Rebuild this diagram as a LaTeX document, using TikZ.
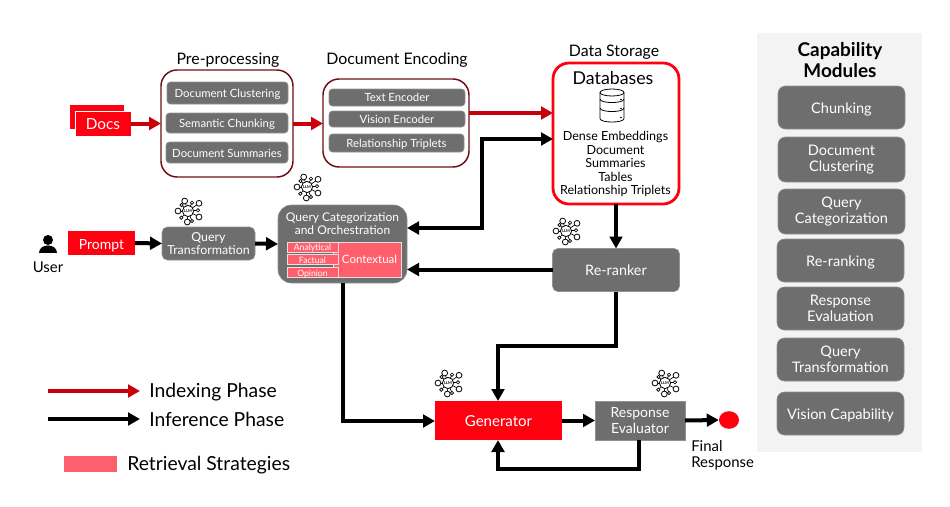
\documentclass[tikz,border=0pt]{standalone}
\usepackage{fontspec}
\setmainfont{Lato}
\usetikzlibrary{arrows.meta}
\definecolor{rcol}{RGB}{255,0,17}
\definecolor{darkrcol}{RGB}{200,0,10}
\definecolor{framecol}{RGB}{112,12,20}
\definecolor{gcol}{RGB}{110,110,110}
\definecolor{pinkcol}{RGB}{255,95,108}
\definecolor{panelcol}{RGB}{243,243,243}
\tikzset{every picture/.style={x=.75pt,y=-.75pt}}
\tikzset{wh/.style 2 args={minimum width=#1*.75pt,minimum height=#2*.75pt,inner sep=0pt,outer sep=0pt}}
\tikzset{oneline/.style={text height=#1,text depth=0pt},oneline/.default=9.5pt}
\tikzset{frame/.style={draw=framecol,line width=1.1pt,rounded corners=12pt}}
\tikzset{graybox/.style={fill=gcol,draw=gcol!75!white,line width=.4pt,rounded corners=2.5pt,text=white,align=center,font=\fontsize{8.5}{9.8}\selectfont}}
\tikzset{capbox/.style={graybox,rounded corners=5.5pt,font=\fontsize{10.9}{12}\selectfont}}
\tikzset{redbox/.style={fill=rcol,text=white,oneline,font=\fontsize{10.5}{12}\selectfont}}
\tikzset{pinkbox/.style={fill=pinkcol,draw=white!80!gcol,line width=.5pt,text=white,oneline=5.4pt,font=\fontsize{6.5}{7}\selectfont}}
\tikzset{head/.style={oneline=9pt,font=\fontsize{11.9}{13}\selectfont}}
\tikzset{legend/.style={anchor=west,oneline=11.3pt,font=\fontsize{14.5}{16}\selectfont}}
\tikzset{annot/.style={align=center,font=\fontsize{9.4}{10.1}\selectfont}}
\tikzset{redge/.style={-{Triangle[length=9pt,width=9.5pt]},darkrcol,line width=3pt}}
\tikzset{bedge/.style={-{Triangle[length=9pt,width=9.5pt]},black,line width=3pt}}
\tikzset{llm/.pic={
  \foreach \dx/\dy in {-3.3/-10,11/-7.7,11/6,-10/0,-.7/11} {
    \draw [line width=.5pt] (0,0) -- (\dx,\dy);
    \draw [line width=.6pt,fill=white] (\dx,\dy) circle (2.9);
  }
  \foreach \dx/\dy in {4/-8.3,10/-.7,4/10,-6.7/6.7,-6.5/-6} {
    \draw [line width=.5pt] (0,0) -- (\dx,\dy);
    \draw [line width=.5pt,fill=white] (\dx,\dy) circle (1.7);
  }
  \draw [line width=.6pt,fill=white] (0,0) circle (5.6);
  \node [inner sep=0pt,font=\fontsize{3}{3}\selectfont\bfseries] {LLM};
}}
\tikzset{dbicon/.pic={
  \draw [line width=.6pt] (0,-13) ellipse (12 and 3.5);
  \draw [line width=.6pt] (-12,-13) -- (-12,13) .. controls (-12,17.7) and (12,17.7) .. (12,13) -- (12,-13);
  \draw [line width=.6pt] (-12,-6.5) .. controls (-12,-1.8) and (12,-1.8) .. (12,-6.5);
  \draw [line width=.6pt] (-12,2.5) .. controls (-12,7.2) and (12,7.2) .. (12,2.5);
  \fill (9,-6) circle (.9);
  \fill (9,3) circle (.9);
  \fill (9,12) circle (.9);
}}
\begin{document}
\begin{tikzpicture}
\useasboundingbox (0,0) rectangle (950,507);

% capability panel
\node [fill=panelcol,wh={165}{419}] (panel) at (839.5,242.5) {};
\node [font=\fontsize{14.2}{15.6}\selectfont\bfseries,align=center] (captitle) at (840,60) {Capability\\Modules};
\node [capbox,oneline,wh={127}{43}] (chunk) at (841.5,107.5) {Chunking};
\node [capbox,wh={127}{45}] (clust) at (841.5,159.5) {Document\\Clustering};
\node [capbox,wh={127}{45}] (categ) at (841.5,211.5) {Query\\Categorization};
\node [capbox,oneline=8.5pt,wh={127}{43}] (rerank) at (840.5,260.5) {Re-ranking};
\node [capbox,wh={127}{43}] (evalu) at (840.5,308.5) {Response\\Evaluation};
\node [capbox,wh={127}{43}] (transf) at (840.5,359.5) {Query\\Transformation};
\node [capbox,oneline=8.5pt,wh={127}{43}] (vision) at (840.5,413.5) {Vision Capability};

% indexing side
\node [redbox,draw=white,line width=.4pt,wh={55}{25}] (docsback) at (96.5,116.5) {};
\node [redbox,draw=white,line width=.4pt,oneline=8.7pt,font=\fontsize{11.5}{12}\selectfont,wh={56}{25}] (docs) at (103,123.5) {Docs};

\node [head] (prelabel) at (228,58) {Pre-processing};
\node [frame,wh={132}{107}] (pre) at (227,123.5) {};
\node [graybox,oneline=7.2pt,wh={121}{22}] (p1) at (227.5,93) {Document Clustering};
\node [graybox,oneline=7.2pt,wh={122}{20}] (p2) at (227,123) {Semantic Chunking};
\node [graybox,oneline=7.2pt,wh={122}{21}] (p3) at (227,152.5) {Document Summaries};

\node [head] (enclabel) at (397,58) {Document Encoding};
\node [frame,wh={146}{88}] (enc) at (396,123) {};
\node [graybox,oneline=6.4pt,wh={136}{17}] (e1) at (397,97.5) {Text Encoder};
\node [graybox,oneline=6.4pt,wh={136}{16}] (e2) at (397,119) {Vision Encoder};
\node [graybox,oneline=6.4pt,wh={135}{18}] (e3) at (396.5,143) {Relationship Triplets};

\node [head] (storelabel) at (614,50) {Data Storage};
\node [draw=rcol,line width=2.1pt,rounded corners=12pt,wh={126}{141}] (db) at (616,133.5) {};
\node [oneline=10.2pt,font=\fontsize{13.3}{14}\selectfont] (dbtitle) at (613,78) {Databases};
\pic at (612,105.5) {dbicon};
\node [annot] (dbtext) at (615.5,164) {Dense Embeddings\\Document\\Summaries\\Tables\\Relationship Triplets};

% inference side
\fill (48,240) circle (5);
\fill (39,253) .. controls (39,243) and (57,243) .. (57,253) -- cycle;
\node [oneline=8.4pt,font=\fontsize{11.2}{12}\selectfont] (user) at (48,267) {User};
\node [redbox,wh={67}{24}] (prompt) at (101.5,243) {Prompt};
\node [graybox,rounded corners=4pt,font=\fontsize{9.3}{9.8}\selectfont,wh={93}{33}] (qt) at (208.5,243.5) {Query\\Transformation};
\pic at (188,211) {llm};

\node [graybox,rounded corners=10pt,wh={129}{78}] (qc) at (342.5,244) {};
\node [text=white,align=center,font=\fontsize{9}{9.8}\selectfont] (qctitle) at (342.5,223.5) {Query Categorization\\and Orchestration};
\node [pinkbox,wh={68}{35}] (ctx) at (367,259.5) {};
\node [text=white,oneline=7.6pt,font=\fontsize{8.6}{10}\selectfont] (ctxlabel) at (369.5,258.5) {Contextual};
\node [pinkbox,wh={51}{10}] (an) at (312.5,247) {Analytical};
\node [pinkbox,wh={51}{9.5}] (fa) at (312.5,259.5) {Factual};
\node [pinkbox,wh={51}{9.5}] (op) at (312.5,272.5) {Opinion};
\pic at (307,187) {llm};

\node [fill=gcol,draw=gcol!75!white,line width=.4pt,rounded corners=4pt,text=white,oneline=8pt,font=\fontsize{10.8}{11}\selectfont,wh={127}{43}] (rr) at (616,270) {Re-ranker};
\pic at (566,231) {llm};

\node [redbox,oneline=8.7pt,font=\fontsize{11.3}{12}\selectfont,wh={127}{39}] (gen) at (498.5,420.5) {Generator};
\pic at (448,383) {llm};
\node [fill=gcol,draw=gcol!75!white,line width=.4pt,text=white,align=center,font=\fontsize{10.5}{11.8}\selectfont,wh={90}{39}] (ev) at (640,420.5) {Response\\Evaluator};
\pic at (665,383) {llm};
\node [circle,fill=rcol,inner sep=0pt,minimum size=15pt,yscale=.88] (out) at (729,420) {};
\node [anchor=north west,align=left,inner sep=0pt,font=\fontsize{11.2}{12}\selectfont] (final) at (691,440) {Final\\Response};

% free corners of the connectors
\coordinate (qcin1) at (407,228);
\coordinate (qcin2) at (407,269.5);
\coordinate (busa) at (482,228);
\coordinate (busb) at (482,139);
\coordinate (dbin1) at (553,113);
\coordinate (dbin2) at (553,139);
\coordinate (encout) at (469,113);
\coordinate (qcout) at (343,283);
\coordinate (gena) at (343,421);
\coordinate (genin) at (435,421);
\coordinate (rrout) at (616,291.5);
\coordinate (rra) at (616,346);
\coordinate (rrb) at (498,346);
\coordinate (gentop) at (498,401);
\coordinate (evout) at (639,440);
\coordinate (eva) at (639,469);
\coordinate (evb) at (498,469);
\coordinate (genbot) at (498,440);

\draw [redge] (docs.east) -- (pre.west |- docs.east);
\draw [redge] (pre.east |- docs.east) -- (enc.west |- docs.east);
\draw [redge] (encout) -- (dbin1);

\draw [bedge] (prompt.east) -- (qt.west);
\draw [bedge] (qt.east) -- (qc.west);
\draw [bedge,{Triangle[length=9pt,width=9.5pt]}-{Triangle[length=9pt,width=9.5pt]}] (qcin1) -- (busa) -- (busb) -- (dbin2);
\draw [bedge] (db.south) -- (rr.north);
\draw [bedge] (rr.west |- qcin2) -- (qcin2);
\draw [bedge] (qcout) -- (gena) -- (genin);
\draw [bedge] (rrout) -- (rra) -- (rrb) -- (gentop);
\draw [bedge] (gen.east) -- (ev.west);
\draw [bedge] (ev.east) -- (out.west);
\draw [bedge] (evout) -- (eva) -- (evb) -- (genbot);

% legend
\coordinate (la) at (48,391);
\coordinate (lb) at (140,391);
\coordinate (lc) at (48,419);
\coordinate (ld) at (140,419);
\draw [redge,line width=2.4pt] (la) -- (lb);
\draw [bedge,line width=2.4pt] (lc) -- (ld);
\node [legend,inner sep=0pt] (lgi) at (149,390) {Indexing Phase};
\node [legend,inner sep=0pt] (lgf) at (149,419) {Inference Phase};
\node [fill=pinkcol,wh={53}{16}] (lgbox) at (90,463.5) {};
\node [legend,inner sep=0pt] (lgr) at (127,463) {Retrieval Strategies};
\end{tikzpicture}
\end{document}
